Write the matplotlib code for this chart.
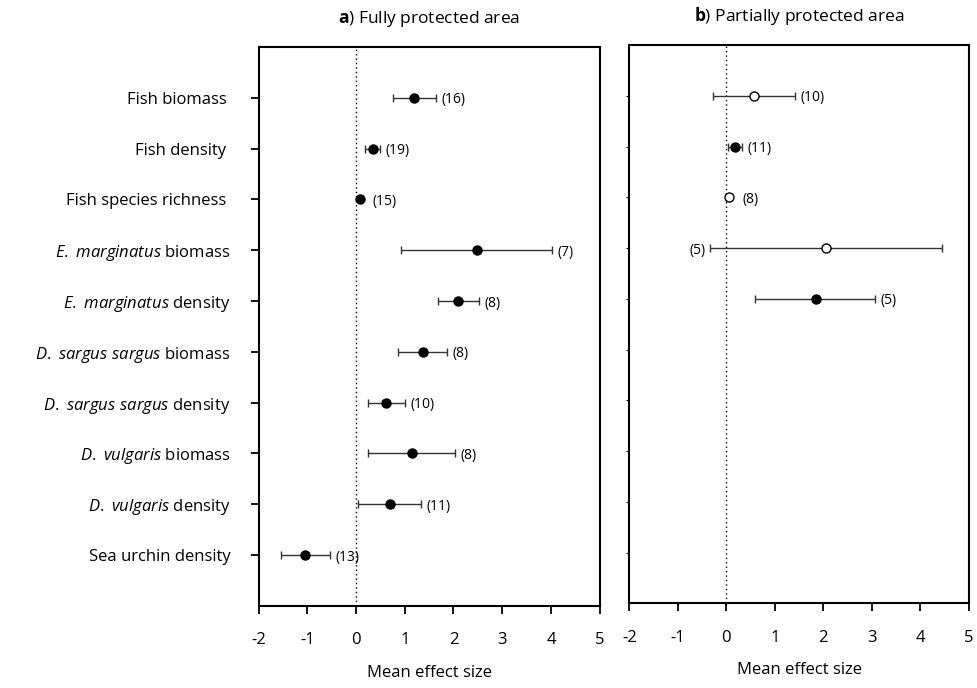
import matplotlib
matplotlib.use("Agg")
import matplotlib.pyplot as plt

plt.rcParams["font.family"] = ["Open Sans", "DejaVu Sans"]
plt.rcParams["mathtext.fontset"] = "custom"
plt.rcParams["mathtext.rm"] = "Open Sans"
plt.rcParams["mathtext.it"] = "Open Sans:italic"
plt.rcParams["mathtext.bf"] = "Open Sans:bold"

outcomes = [
    "Fish biomass ",
    "Fish density ",
    "Fish species richness ",
    r"$\it{E.\ marginatus}$ biomass",
    r"$\it{E.\ marginatus}$ density",
    r"$\it{D.\ sargus\ sargus}$ biomass",
    r"$\it{D.\ sargus\ sargus}$ density",
    r"$\it{D.\ vulgaris}$ biomass",
    r"$\it{D.\ vulgaris}$ density",
    "Sea urchin density",
]

full_mean = [1.19, 0.35, 0.08, 2.48, 2.09, 1.37, 0.61, 1.15, 0.69, -1.05]
full_lo = [0.76, 0.19, 0.04, 0.93, 1.69, 0.87, 0.25, 0.25, 0.04, -1.54]
full_hi = [1.65, 0.49, 0.12, 4.02, 2.52, 1.86, 1.00, 2.04, 1.34, -0.54]
full_n = [16, 19, 15, 7, 8, 8, 10, 8, 11, 13]

partial_mean = [0.57, 0.17, 0.05, 2.06, 1.84]
partial_lo = [-0.27, 0.03, 0.00, -0.33, 0.59]
partial_hi = [1.42, 0.32, 0.10, 4.44, 3.07]
partial_n = [10, 11, 8, 5, 5]
partial_filled = [False, True, False, False, True]
partial_label_left = [False, False, False, True, False]

x_ticks = [-2, -1, 0, 1, 2, 3, 4, 5]


def draw_panel(ax, mean, lo, hi, n, filled, label_left, title):
    rows = list(range(1, len(mean) + 1))
    ax.axvline(0, color="black", linestyle=(0, (1, 2.2)), linewidth=1.0, zorder=1)
    for y, m, l, h, k, f, left in zip(rows, mean, lo, hi, n, filled, label_left):
        ax.errorbar(
            [m], [y], xerr=[[m - l], [h - m]], fmt="none",
            ecolor="#333333", elinewidth=1.0, capsize=3.2, capthick=1.0, zorder=2,
        )
        ax.plot(
            [m], [y], marker="o", markersize=6.5, linestyle="none",
            markerfacecolor="black" if f else "white",
            markeredgecolor="black", markeredgewidth=1.0, zorder=3,
        )
        if left:
            ax.annotate(f"({k})", (l, y), xytext=(-3, -1.5), textcoords="offset points",
                        ha="right", va="center", fontsize=10)
        else:
            ax.annotate(f"({k})", (max(h, m), y), xytext=(4 if h - m > 0.1 else 8, -1.5),
                        textcoords="offset points", ha="left", va="center", fontsize=10)

    ax.set_xlim(-2, 5)
    ax.set_ylim(11, 0)
    ax.set_xticks(x_ticks)
    ax.set_xticklabels([str(t) for t in x_ticks])
    ax.set_xlabel("Mean effect size", fontsize=12, labelpad=12)
    ax.tick_params(axis="x", direction="out", length=6, width=1.3, pad=13, labelsize=12)
    for side in ["left", "right", "top", "bottom"]:
        ax.spines[side].set_linewidth(1.5)
    ax.set_title(title, fontsize=12.5, pad=17)


fig = plt.figure(figsize=(9.77, 6.88), dpi=100)
ax_full = fig.add_axes([0.2646, 0.1196, 0.3492, 0.812])
ax_part = fig.add_axes([0.6441, 0.1231, 0.3475, 0.8115])

draw_panel(ax_full, full_mean, full_lo, full_hi, full_n,
           [True] * len(full_mean), [False] * len(full_mean),
           r"$\bf{a}$) Fully protected area")
ax_full.set_yticks(list(range(1, len(outcomes) + 1)))
ax_full.set_yticklabels(outcomes)
ax_full.tick_params(axis="y", direction="out", length=6, width=1.3, pad=14, labelsize=12)

draw_panel(ax_part, partial_mean, partial_lo, partial_hi, partial_n,
           partial_filled, partial_label_left,
           r"$\bf{b}$) Partially protected area")
ax_part.set_yticks(list(range(1, len(outcomes) + 1)))
ax_part.set_yticklabels([])
ax_part.tick_params(axis="y", direction="out", length=2, width=0.8)

fig.savefig("out.png", dpi=100)
